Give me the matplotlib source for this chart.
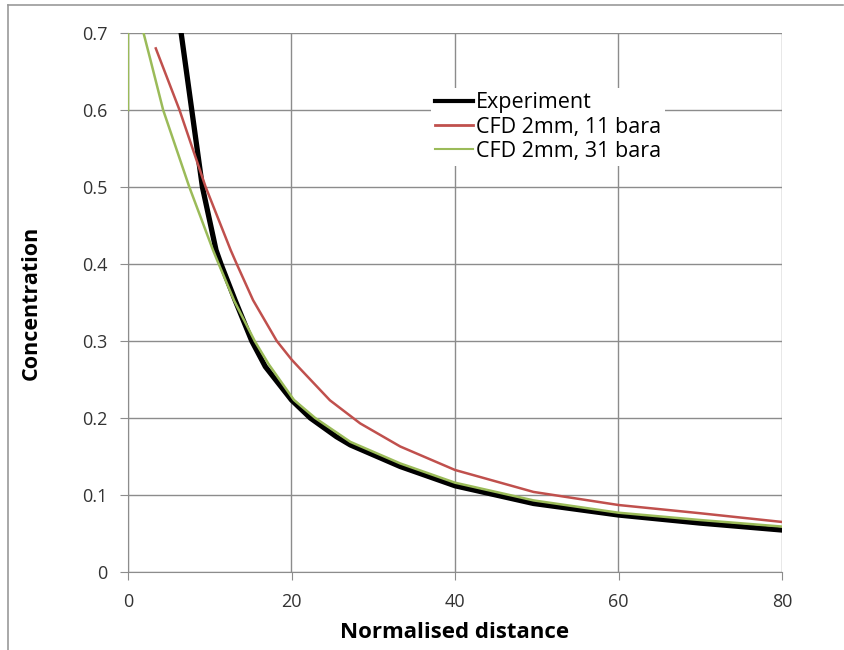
import matplotlib
matplotlib.use("Agg")
import matplotlib.pyplot as plt
from matplotlib.lines import Line2D

# Data
exp_x = [6.5, 7.8, 9.1, 10.77, 11.37, 13.1, 15.14, 16.8, 20.0, 22.3, 25.5, 27.2, 33.3, 40.0, 49.6, 60.0, 70.0, 80.0]
exp_y = [0.70, 0.60, 0.50, 0.418, 0.40, 0.353, 0.30, 0.2667, 0.2234, 0.20, 0.1757, 0.165, 0.137, 0.112, 0.089, 0.074, 0.0635, 0.0545]

cfd11_x = [3.4, 6.3, 9.5, 12.56, 13.3, 15.3, 18.2, 20.0, 21.05, 24.7, 28.4, 33.3, 40.0, 49.6, 60.0, 70.0, 80.0]
cfd11_y = [0.68, 0.60, 0.50, 0.418, 0.40, 0.353, 0.30, 0.276, 0.264, 0.223, 0.193, 0.163, 0.1325, 0.104, 0.087, 0.0763, 0.065]

cfd31_x = [0.0, 0.0, 1.0, 1.9, 2.7, 4.3, 7.5, 10.4, 10.9, 13.0, 15.5, 17.2, 20.3, 22.9, 27.2, 33.3, 40.0, 49.6, 60.0, 70.0, 80.0]
cfd31_y = [0.60, 0.80, 0.74, 0.70, 0.667, 0.60, 0.50, 0.418, 0.405, 0.352, 0.30, 0.27, 0.2234, 0.20, 0.169, 0.141, 0.116, 0.093, 0.077, 0.0675, 0.059]

series_labels = ["Experiment", "CFD 2mm, 11 bara", "CFD 2mm, 31 bara"]
x_ticks = [0, 20, 40, 60, 80]
y_ticks = [0, 0.1, 0.2, 0.3, 0.4, 0.5, 0.6, 0.7]
y_tick_labels = ["0", "0.1", "0.2", "0.3", "0.4", "0.5", "0.6", "0.7"]

plt.rcParams['font.family'] = ['Open Sans', 'DejaVu Sans']

fig = plt.figure(figsize=(8.45, 6.5), dpi=100)
ax = fig.add_axes([128/845, 78/650, (782-128)/845, (572-33)/650])

ax.plot(exp_x, exp_y, color="black", lw=3.8, label=series_labels[0], zorder=3,
        solid_joinstyle="round")
ax.plot(cfd11_x, cfd11_y, color="#C0504D", lw=1.8, label=series_labels[1], zorder=4,
        solid_joinstyle="round")
ax.plot(cfd31_x, cfd31_y, color="#9BBB59", lw=1.8, label=series_labels[2], zorder=4,
        solid_joinstyle="round")

ax.set_xlim(0, 80)
ax.set_ylim(0, 0.7)
ax.set_xticks(x_ticks)
ax.set_yticks(y_ticks)
ax.set_yticklabels(y_tick_labels)
ax.grid(True, color="#8c8c8c", lw=1.0)
ax.set_axisbelow(True)
for s in ["top", "right"]:
    ax.spines[s].set_visible(False)
for s in ["left", "bottom"]:
    ax.spines[s].set_color("#8c8c8c")
ax.tick_params(axis="both", colors="#8c8c8c", length=6, labelsize=13, labelcolor="#333333")
ax.tick_params(axis="x", pad=9)
ax.tick_params(axis="y", pad=9)

ax.set_xlabel("Normalised distance", fontsize=16, fontweight="bold", labelpad=8)
ax.set_ylabel("Concentration", fontsize=15.5, fontweight="bold", labelpad=29)

handles = [Line2D([], [], color="black", lw=3),
           Line2D([], [], color="#C0504D", lw=2),
           Line2D([], [], color="#9BBB59", lw=1.5)]
leg = ax.legend(handles, series_labels, loc="upper left", bbox_to_anchor=(0.463, 0.898),
                frameon=True, fontsize=15.5, handlelength=1.75, handletextpad=0.15,
                labelspacing=0.15, borderpad=0.2, borderaxespad=0)
leg.get_frame().set_facecolor("white")
leg.get_frame().set_edgecolor("none")
leg.get_frame().set_alpha(1)

# figure frame lines
fig.add_artist(Line2D([8/845, 8/845], [0, 1 - 5/650], transform=fig.transFigure, color="#999999", lw=1.2))
fig.add_artist(Line2D([8/845, 843/845], [1 - 5/650, 1 - 5/650], transform=fig.transFigure, color="#999999", lw=1.2))

fig.savefig("out.png", dpi=100)
